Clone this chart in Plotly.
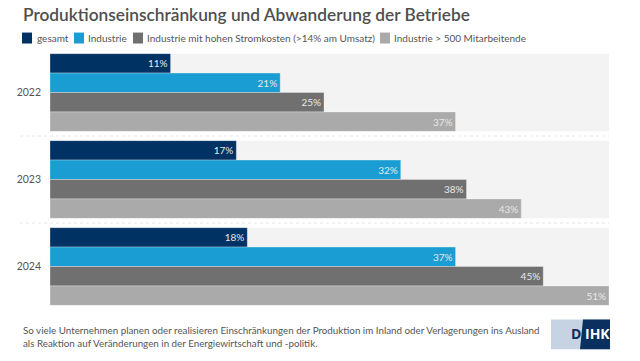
import plotly.graph_objects as go

years = ["2022", "2023", "2024"]
series_names = ["gesamt", "Industrie", "Industrie mit hohen Stromkosten (>14% am Umsatz)", "Industrie > 500 Mitarbeitende"]
gesamt = [11, 17, 18]
industrie = [21, 32, 37]
stromkosten = [25, 38, 45]
mitarbeitende = [37, 43, 51]
values = [gesamt, industrie, stromkosten, mitarbeitende]
colors = ["#003263", "#1a9dd3", "#707070", "#aaaaaa"]

W, H = 640, 361
# plot area in window pixels: x 50..609, y 48.5..310.5
L, R, T, B = 50, 640 - 609, 48.5, 361 - 310.5
PW, PH = W - L - R, H - T - B

def px(x):
    return (x - L) / PW

def py(y):
    return (H - B - y) / PH

FONT = "Lato"
TXT = "#555555"

fig = go.Figure()
for name, vals, col in zip(series_names, values, colors):
    fig.add_trace(go.Bar(
        y=years, x=vals, name=name, orientation="h",
        marker=dict(color=col, line=dict(color="rgba(255,255,255,0.5)", width=0.6)),
        text=[f"{v}%" for v in vals], textposition="inside", insidetextanchor="end",
        textfont=dict(color="#e8e8e8", size=10, family=FONT),
        showlegend=False, hoverinfo="skip",
    ))

shapes = []
bargap = 0.107
xmax = 51
for i, _ in enumerate(years):
    shapes.append(dict(type="rect", xref="x", yref="y", x0=0, x1=xmax,
                       y0=i - (1 - bargap) / 2, y1=i + (1 - bargap) / 2,
                       fillcolor="#f3f3f3", line=dict(width=0), layer="below"))
for i in range(len(years) - 1):
    shapes.append(dict(type="line", xref="paper", yref="y", x0=px(20), x1=1,
                       y0=i + 0.5, y1=i + 0.5,
                       line=dict(color="#e6e6e6", width=1, dash="dot")))

# logo
shapes.append(dict(type="rect", xref="paper", yref="paper", x0=px(551), x1=px(610),
                   y0=py(350), y1=py(320), fillcolor="#c5d3e2", line=dict(width=0)))
shapes.append(dict(type="path", xref="paper", yref="paper",
                   path=f"M {px(583)},{py(320)} L {px(610)},{py(320)} L {px(610)},{py(350)} L {px(580)},{py(350)} Z",
                   fillcolor="#0b2f5e", line=dict(width=0)))

annotations = []
# title
annotations.append(dict(text="Produktionseinschränkung und Abwanderung der Betriebe",
                        xref="paper", yref="paper", x=px(21), y=py(13.5), xanchor="left", yanchor="middle",
                        showarrow=False, font=dict(family=FONT, size=17.3, color="#4f4f4f", weight=600)))
# legend
sq_x = [22, 74, 133, 380]
tx_x = [35, 86, 145, 392]
for name, col, sx, tx in zip(series_names, colors, sq_x, tx_x):
    shapes.append(dict(type="rect", xref="paper", yref="paper", x0=px(sx), x1=px(sx + 10),
                       y0=py(43), y1=py(32), fillcolor=col, line=dict(width=0)))
    annotations.append(dict(text=name, xref="paper", yref="paper", x=px(tx), y=py(37.5),
                            xanchor="left", yanchor="middle", showarrow=False,
                            font=dict(family=FONT, size=10, color=TXT)))
# footer
annotations.append(dict(text="So viele Unternehmen planen oder realisieren Einschränkungen der Produktion im Inland oder Verlagerungen ins Ausland<br>als Reaktion auf Veränderungen in der Energiewirtschaft und -politik.",
                        xref="paper", yref="paper", x=px(21), y=py(337), xanchor="left", yanchor="middle",
                        align="left", showarrow=False, font=dict(family=FONT, size=9.8, color=TXT)))
# logo text
annotations.append(dict(text="<b>D</b>", xref="paper", yref="paper", x=px(583), y=py(334), xanchor="right",
                        yanchor="middle", showarrow=False, font=dict(family="Open Sans", size=14, color="#0b2f5e")))
annotations.append(dict(text="<b>IHK</b>", xref="paper", yref="paper", x=px(583), y=py(334), xanchor="left",
                        yanchor="middle", showarrow=False, font=dict(family="Open Sans", size=14, color="#ffffff")))

fig.update_layout(
    width=W, height=H,
    margin=dict(l=L, r=R, t=T, b=B, pad=0),
    paper_bgcolor="white", plot_bgcolor="white",
    barmode="group", bargap=bargap, bargroupgap=0,
    shapes=shapes, annotations=annotations,
    xaxis=dict(range=[0, xmax], visible=False, fixedrange=True),
    yaxis=dict(autorange="reversed", showgrid=False, zeroline=False, showline=False,
               ticks="", ticklabelstandoff=8, fixedrange=True,
               tickfont=dict(family=FONT, size=10.5, color=TXT)),
    font=dict(family=FONT),
    hovermode=False,
)

# remove the browser's default 8px body margin so the figure fills the window
fig.write_html("out.html", config=dict(displayModeBar=False),
               post_script="document.body.style.margin='0';document.body.style.overflow='hidden';")
